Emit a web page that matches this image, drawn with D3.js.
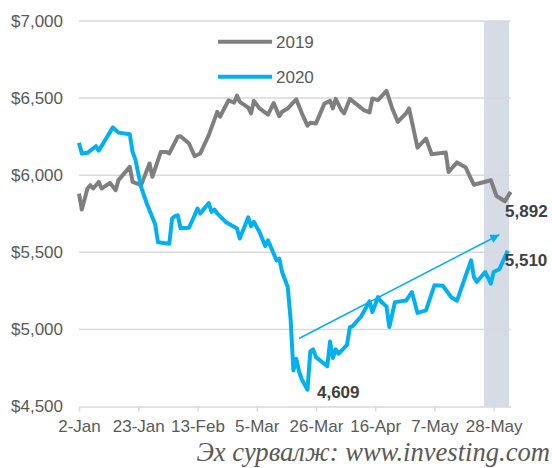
<!DOCTYPE html>
<html>
<head>
<meta charset="utf-8">
<script src="https://cdn.jsdelivr.net/npm/d3@7"></script>
<style>
  body { margin: 0; background: #fff; }
  svg text { font-family: "Liberation Sans", Arial, sans-serif; }
  svg text.source { font-family: "Liberation Serif", "Times New Roman", serif; }
</style>
</head>
<body>
<svg id="chart" width="552" height="468"></svg>
<script>
// Copper price, 2019 vs 2020 (2019 values plotted on the 2020 calendar)
const seriesNames = ["2019", "2020"];

const dates2019 = [
  "01-02", "01-03", "01-05", "01-06", "01-07", "01-09", "01-10", "01-13", "01-15", "01-16",
  "01-20", "01-21", "01-24", "01-27", "01-28", "01-31", "02-02", "02-03", "02-06", "02-07",
  "02-10", "02-12", "02-14", "02-17", "02-20", "02-21", "02-24", "02-26", "02-27", "02-28",
  "03-02", "03-03", "03-04", "03-06", "03-09", "03-11", "03-13", "03-14", "03-16", "03-19",
  "03-21", "03-23", "03-24", "03-26", "03-29", "03-31", "04-01", "04-02", "04-04", "04-05",
  "04-07", "04-09", "04-12", "04-14", "04-15", "04-17", "04-20", "04-22", "04-24", "04-27",
  "04-28", "05-01", "05-04", "05-06", "05-11", "05-12", "05-15", "05-18", "05-21", "05-27",
  "05-29", "06-01", "06-03",
];
const values2019 = [
  5881, 5777, 5914, 5935, 5914, 5956, 5914, 5950, 5903, 5968,
  6054, 5956, 5935, 6076, 5989, 6151, 6151, 6141, 6249, 6253,
  6206, 6123, 6141, 6260, 6411, 6379, 6485, 6471, 6516, 6476,
  6438, 6401, 6482, 6433, 6393, 6468, 6383, 6411, 6433, 6492,
  6401, 6321, 6340, 6336, 6464, 6482, 6433, 6495, 6422, 6401,
  6495, 6466, 6422, 6407, 6498, 6487, 6547, 6435, 6346, 6403,
  6433, 6179, 6238, 6136, 6148, 6021, 6083, 6052, 5938, 5967,
  5865, 5831, 5892,
];

const dates2020 = [
  "01-02", "01-03", "01-05", "01-08", "01-09", "01-14", "01-16", "01-20", "01-21", "01-22",
  "01-24", "01-26", "01-27", "01-29", "01-30", "02-03", "02-04", "02-05", "02-06", "02-07",
  "02-10", "02-12", "02-13", "02-14", "02-17", "02-18", "02-19", "02-20", "02-23", "02-27",
  "02-28", "03-02", "03-03", "03-04", "03-06", "03-08", "03-09", "03-12", "03-13", "03-14",
  "03-16", "03-17", "03-18", "03-19", "03-20", "03-21", "03-23", "03-24", "03-25", "03-26",
  "03-30", "03-31", "04-01", "04-02", "04-03", "04-06", "04-07", "04-08", "04-11", "04-14",
  "04-15", "04-17", "04-18", "04-20", "04-21", "04-23", "04-27", "04-29", "05-01", "05-04",
  "05-07", "05-10", "05-13", "05-15", "05-18", "05-20", "05-21", "05-22", "05-25", "05-27",
  "05-28", "05-30", "06-02",
];
const values2020 = [
  6211, 6141, 6145, 6188, 6159, 6310, 6276, 6266, 6151, 6101,
  5924, 5818, 5773, 5682, 5565, 5556, 5719, 5734, 5740, 5656,
  5659, 5740, 5784, 5751, 5819, 5762, 5777, 5753, 5697, 5654,
  5589, 5727, 5669, 5697, 5632, 5540, 5578, 5448, 5459, 5372,
  5275, 5071, 4734, 4810, 4727, 4675, 4609, 4857, 4870, 4820,
  4761, 4921, 4815, 4871, 4842, 4899, 5013, 5021, 5084, 5182,
  5112, 5210, 5182, 5149, 5016, 5177, 5188, 5242, 5107, 5123,
  5286, 5283, 5208, 5186, 5344, 5448, 5340, 5307, 5372, 5297,
  5372, 5390, 5510,
];

const xDomain = ["01-02", "06-03"];
const tickDates = ["01-02", "01-23", "02-13", "03-05", "03-26", "04-16", "05-07", "05-28"];
const tickLabels = ["2-Jan", "23-Jan", "13-Feb", "5-Mar", "26-Mar", "16-Apr", "7-May", "28-May"];
const yTicks = [4500, 5000, 5500, 6000, 6500, 7000];

const highlightRange = ["05-24", "06-03"];
const trendArrow = [
  { date: "03-20", value: 4941 },
  { date: "05-30", value: 5614 },
];
const sourceText = "Эх сурвалж: www.investing.com";

const width = 552;
const height = 468;
const margin = { top: 21, right: 41.4, bottom: 61.5, left: 79 };
const colors = { "2019": "#7f7f7f", "2020": "#00b0f0" };
const textColor = "#595959";
const gridColor = "#d9d9d9";

const parse = (s) => d3.utcParse("%Y-%m-%d")("2020-" + s);

const x = d3
  .scaleUtc()
  .domain(xDomain.map(parse))
  .range([margin.left, width - margin.right]);

const y = d3
  .scaleLinear()
  .domain([4500, 7000])
  .range([height - margin.bottom, margin.top]);

const series = [
  { name: "2019", points: dates2019.map((d, i) => ({ date: parse(d), value: values2019[i] })) },
  { name: "2020", points: dates2020.map((d, i) => ({ date: parse(d), value: values2020[i] })) },
];

const svg = d3.select("#chart");

svg
  .append("defs")
  .append("marker")
  .attr("id", "arrowhead")
  .attr("viewBox", "0 0 10 10")
  .attr("refX", 10)
  .attr("refY", 5)
  .attr("markerWidth", 7)
  .attr("markerHeight", 6)
  .attr("markerUnits", "strokeWidth")
  .attr("orient", "auto")
  .append("path")
  .attr("d", "M0,0L10,5L0,10z")
  .attr("fill", colors["2020"]);

// shaded period
svg
  .append("rect")
  .attr("x", x(parse(highlightRange[0])) + 1.5)
  .attr("y", margin.top)
  .attr("width", x(parse(highlightRange[1])) - x(parse(highlightRange[0])) - 3)
  .attr("height", y(4500) - margin.top)
  .attr("fill", "#d6dce5");

// gridlines
svg
  .append("g")
  .selectAll("line")
  .data(yTicks.filter((d) => d > 4500))
  .join("line")
  .attr("x1", margin.left)
  .attr("x2", width - margin.right)
  .attr("y1", (d) => y(d))
  .attr("y2", (d) => y(d))
  .attr("stroke", gridColor)
  .attr("stroke-width", 1.5);

// y axis labels
const yAxis = svg
  .append("g")
  .attr("transform", `translate(${margin.left}, 0)`)
  .call(
    d3.axisLeft(y).tickValues(yTicks).tickSize(0).tickPadding(16).tickFormat(d3.format("$,.0f"))
  );
yAxis.select(".domain").remove();
yAxis.selectAll("text").attr("font-size", 17).attr("fill", textColor);

// x axis
const xAxis = svg
  .append("g")
  .attr("transform", `translate(0, ${y(4500)})`)
  .call(
    d3
      .axisBottom(x)
      .tickValues(tickDates.map(parse))
      .tickFormat((d, i) => tickLabels[i])
      .tickSize(5)
      .tickSizeOuter(0)
      .tickPadding(8.5)
  );
xAxis.select(".domain").attr("stroke", gridColor).attr("stroke-width", 1.5);
xAxis.selectAll(".tick line").attr("stroke", gridColor).attr("stroke-width", 1.5);
xAxis.selectAll("text").attr("font-size", 17).attr("fill", textColor);

// series lines
const line = d3
  .line()
  .x((d) => x(d.date))
  .y((d) => y(d.value));

svg
  .append("g")
  .selectAll("path")
  .data(series)
  .join("path")
  .attr("d", (d) => line(d.points))
  .attr("fill", "none")
  .attr("stroke", (d) => colors[d.name])
  .attr("stroke-width", 4)
  .attr("stroke-linejoin", "round");

// trend arrow
svg
  .append("line")
  .attr("x1", x(parse(trendArrow[0].date)))
  .attr("y1", y(trendArrow[0].value))
  .attr("x2", x(parse(trendArrow[1].date)))
  .attr("y2", y(trendArrow[1].value))
  .attr("stroke", colors["2020"])
  .attr("stroke-width", 1.5)
  .attr("marker-end", "url(#arrowhead)");

// value labels
const fmt = d3.format(",");
const last2019 = series[0].points[series[0].points.length - 1];
const last2020 = series[1].points[series[1].points.length - 1];
const min2020 = series[1].points.reduce((a, b) => (b.value < a.value ? b : a));
const valueLabels = [
  { p: last2019, dx: -5.5, dy: 19.5 },
  { p: last2020, dx: -3, dy: 9 },
  { p: min2020, dx: 9.5, dy: 2 },
];

svg
  .append("g")
  .selectAll("text")
  .data(valueLabels)
  .join("text")
  .attr("x", (d) => x(d.p.date) + d.dx)
  .attr("y", (d) => y(d.p.value) + d.dy)
  .attr("dy", "0.35em")
  .attr("font-size", 17)
  .attr("font-weight", "bold")
  .attr("fill", "#404040")
  .text((d) => fmt(d.p.value));

// legend
const legend = svg
  .append("g")
  .selectAll("g")
  .data(seriesNames)
  .join("g")
  .attr("transform", (d, i) => `translate(218, ${41.7 + i * 35})`);

legend
  .append("line")
  .attr("x1", 0)
  .attr("x2", 54)
  .attr("stroke", (d) => colors[d])
  .attr("stroke-width", 4);

legend
  .append("text")
  .attr("x", 58)
  .attr("dy", "0.35em")
  .attr("font-size", 17)
  .attr("fill", textColor)
  .text((d) => d);

// source
svg
  .append("text")
  .attr("class", "source")
  .attr("x", 550)
  .attr("y", 461)
  .attr("text-anchor", "end")
  .attr("font-size", 26.6)
  .attr("font-style", "italic")
  .attr("fill", textColor)
  .text(sourceText);
</script>
</body>
</html>
